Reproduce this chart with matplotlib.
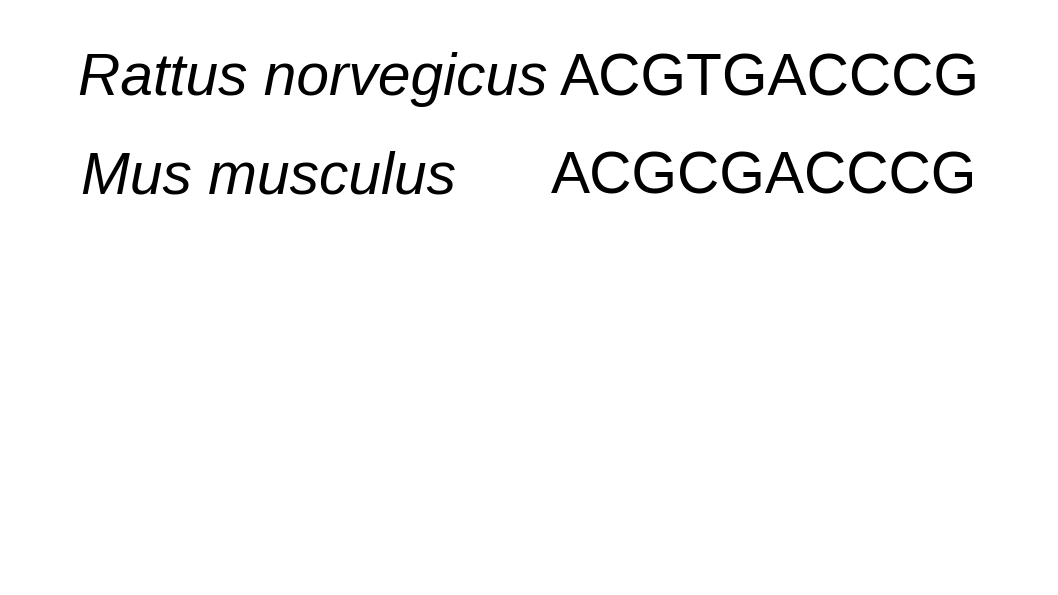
import matplotlib
matplotlib.use('Agg')
from matplotlib import pyplot as plt

# Alignment data
species = ['Rattus norvegicus', 'Mus musculus']
sequences = ['ACGTGACCCG', 'ACGCGACCCG']

plt.rcParams['font.family'] = ['Liberation Sans', 'DejaVu Sans']

fig = plt.figure(figsize=(10.58, 5.95), dpi=100)
ax = fig.add_axes([0, 0, 1, 1])
ax.set_xlim(0, 1058)
ax.set_ylim(595, 0)
ax.axis('off')

name_x = [78, 81]
seq_x = [980, 977]
base_y = [95, 193]
for i in range(len(species)):
    ax.text(name_x[i], base_y[i], species[i], fontsize=42.2, style='italic',
            ha='left', va='baseline')
    ax.text(seq_x[i], base_y[i], sequences[i], fontsize=42.2,
            ha='right', va='baseline')

fig.savefig('out.png', dpi=100)
